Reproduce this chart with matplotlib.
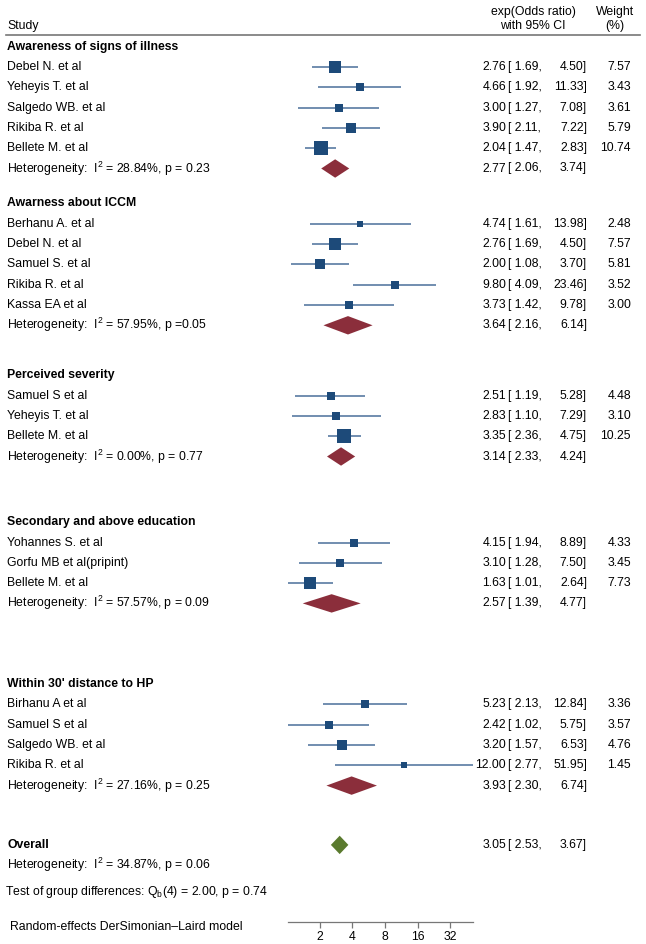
""" Forest plot: subgroup meta-analysis of odds ratios (random effects)
"""

import numpy as np
import matplotlib
matplotlib.use("Agg")
import matplotlib.pyplot as plt
from matplotlib.ticker import FixedLocator, FixedFormatter

plt.rcParams['font.family'] = ['Liberation Sans', 'DejaVu Sans']
plt.rcParams['mathtext.fontset'] = 'custom'
plt.rcParams['mathtext.rm'] = 'Liberation Sans'
plt.rcParams['mathtext.default'] = 'regular'

# study level data
study_group = [0, 0, 0, 0, 0,
               1, 1, 1, 1, 1,
               2, 2, 2,
               3, 3, 3,
               4, 4, 4, 4]
study_names = ["Debel N. et al", "Yeheyis T. et al", "Salgedo WB. et al", "Rikiba R. et al", "Bellete M. et al",
               "Berhanu A. et al", "Debel N. et al", "Samuel S. et al", "Rikiba R. et al", "Kassa EA et al",
               "Samuel S et al", "Yeheyis T. et al", "Bellete M. et al",
               "Yohannes S. et al", "Gorfu MB et al(pripint)", "Bellete M. et al",
               "Birhanu A et al", "Samuel S et al", "Salgedo WB. et al", "Rikiba R. et al"]
study_or = [2.76, 4.66, 3.00, 3.90, 2.04,
            4.74, 2.76, 2.00, 9.80, 3.73,
            2.51, 2.83, 3.35,
            4.15, 3.10, 1.63,
            5.23, 2.42, 3.20, 12.00]
study_lo = [1.69, 1.92, 1.27, 2.11, 1.47,
            1.61, 1.69, 1.08, 4.09, 1.42,
            1.19, 1.10, 2.36,
            1.94, 1.28, 1.01,
            2.13, 1.02, 1.57, 2.77]
study_hi = [4.50, 11.33, 7.08, 7.22, 2.83,
            13.98, 4.50, 3.70, 23.46, 9.78,
            5.28, 7.29, 4.75,
            8.89, 7.50, 2.64,
            12.84, 5.75, 6.53, 51.95]
study_weight = [7.57, 3.43, 3.61, 5.79, 10.74,
                2.48, 7.57, 5.81, 3.52, 3.00,
                4.48, 3.10, 10.25,
                4.33, 3.45, 7.73,
                3.36, 3.57, 4.76, 1.45]

# subgroup pooled results
group_names = ["Awareness of signs of illness", "Awarness about ICCM", "Perceived severity",
               "Secondary and above education", "Within 30' distance to HP"]
group_or = [2.77, 3.64, 3.14, 2.57, 3.93]
group_lo = [2.06, 2.16, 2.33, 1.39, 2.30]
group_hi = [3.74, 6.14, 4.24, 4.77, 6.74]
group_i2 = [28.84, 57.95, 0.00, 57.57, 27.16]
group_p = ["p = 0.23", "p =0.05", "p = 0.77", "p = 0.09", "p = 0.25"]

overall = (3.05, 2.53, 3.67)
overall_i2 = 34.87
overall_p = "p = 0.06"
test_text = r"Test of group differences: $Q_b$(4) = 2.00, p = 0.74"
model_text = "Random-effects DerSimonian\u2013Laird model"

xticks = [2, 4, 8, 16, 32]

# layout (pixels from top)
W, H = 646, 944
row = 20.3
first_header = 46.7
gaps = [35, 50, 65.7, 80.7, 59.3]   # space after each subgroup's heterogeneity row
fs = 8.8
sq_col = "#1d4a79"
ci_col = "#4a6f9a"
sub_col = "#8b2e3b"
ov_col = "#5a7a2e"

fig = plt.figure(figsize=(W / 100, H / 100), dpi=100)
tx = fig.add_axes([0, 0, 1, 1])
tx.set_xlim(0, W)
tx.set_ylim(H, 0)
tx.axis("off")

x0, x1 = 287.7, 473.0
ax = fig.add_axes([x0 / W, 0, (x1 - x0) / W, 1])
ax.set_xscale("log")
ax.set_xlim(min(study_lo), max(study_hi))
ax.set_ylim(H, 0)
ax.patch.set_alpha(0)
for s in ["top", "left", "right"]:
    ax.spines[s].set_visible(False)
ax_y = 921.7
ax.spines["bottom"].set_position(("data", ax_y))
ax.spines["bottom"].set_color("#777777")
ax.spines["bottom"].set_linewidth(0.9)
ax.xaxis.set_major_locator(FixedLocator(xticks))
ax.xaxis.set_major_formatter(FixedFormatter([str(t) for t in xticks]))
ax.xaxis.set_minor_locator(FixedLocator([]))
ax.tick_params(axis="x", colors="#777777", labelcolor="black", labelsize=fs, length=4, width=0.9, pad=3)
ax.set_yticks([])

# header
tx.text(7.4, 26, "Study", fontsize=fs, va="center")
tx.text(533, 11.7, "exp(Odds ratio)", fontsize=fs, va="center", ha="center")
tx.text(533, 26, "with 95% CI", fontsize=fs, va="center", ha="center")
tx.text(615, 11.7, "Weight", fontsize=fs, va="center", ha="center")
tx.text(615, 26, "(%)", fontsize=fs, va="center", ha="center")
tx.plot([6, 640], [34.5, 34.5], color="#777777", lw=1.2)


def ci_text(y, est, lo, hi):
    tx.text(506, y, f"{est:.2f}", fontsize=fs, va="center", ha="right")
    tx.text(508.5, y, f"[ {lo:.2f},", fontsize=fs, va="center", ha="left")
    tx.text(587, y, f"{hi:.2f}]", fontsize=fs, va="center", ha="right")


def diamond(y, est, lo, hi, color):
    ax.fill([lo, est, hi, est], [y, y - 9.2, y, y + 9.2], color=color, lw=0, clip_on=False)


y = first_header
for g, name in enumerate(group_names):
    tx.text(7.4, y, name, fontsize=fs, va="center", fontweight="bold")
    idx = [i for i, sg in enumerate(study_group) if sg == g]
    for i in idx:
        y += row
        tx.text(7.4, y, study_names[i], fontsize=fs, va="center")
        ax.hlines(y, study_lo[i], study_hi[i], color=ci_col, lw=1.1, clip_on=False)
        side = 4.2 * np.sqrt(study_weight[i]) * 0.72
        ax.plot(study_or[i], y, marker="s", ms=side, color=sq_col, mew=0, clip_on=False)
        ci_text(y, study_or[i], study_lo[i], study_hi[i])
        tx.text(631, y, f"{study_weight[i]:.2f}", fontsize=fs, va="center", ha="right")
    y += row
    tx.text(7.4, y, f"Heterogeneity:  $I^2$ = {group_i2[g]:.2f}%, {group_p[g]}", fontsize=fs, va="center")
    diamond(y, group_or[g], group_lo[g], group_hi[g], sub_col)
    ci_text(y, group_or[g], group_lo[g], group_hi[g])
    y += gaps[g]

# overall
tx.text(7.4, y, "Overall", fontsize=fs, va="center", fontweight="bold")
diamond(y, overall[0], overall[1], overall[2], ov_col)
ci_text(y, *overall)
y += row
tx.text(7.4, y, f"Heterogeneity:  $I^2$ = {overall_i2:.2f}%, {overall_p}", fontsize=fs, va="center")
y += 27.3
tx.text(5, y, test_text, fontsize=fs, va="center")
tx.text(10.3, 927.3, model_text, fontsize=fs, va="center")

plt.savefig("out.png", dpi=100)
